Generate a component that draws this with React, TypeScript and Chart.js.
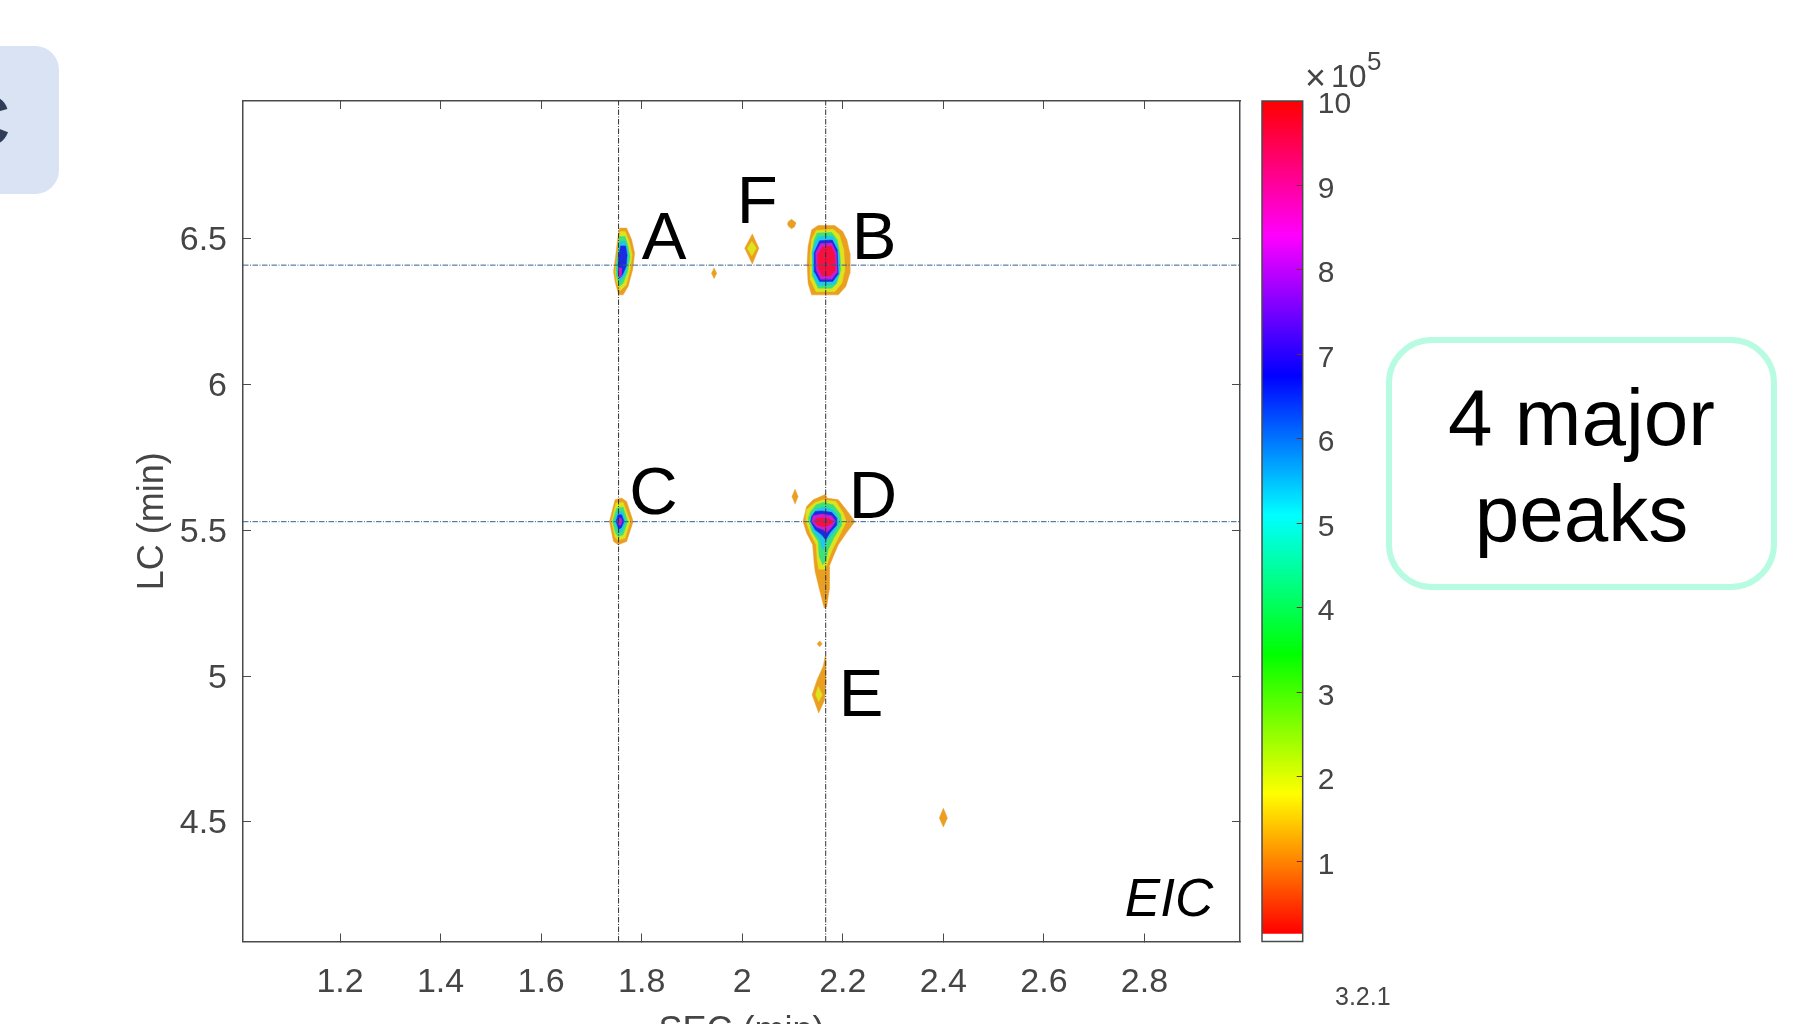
import React, { useEffect, useRef } from "react";
import { Chart, registerables } from "chart.js";

Chart.register(...registerables);

type Pt = [number, number];

const FONT = '"Liberation Sans", Arial, sans-serif';
const TEXT = "#454545";
const AXIS = "#4a4a4a";

const xTicks = [1.2, 1.4, 1.6, 1.8, 2, 2.2, 2.4, 2.6, 2.8];
const yTicks = [4.5, 5, 5.5, 6, 6.5];
const xRange = [1.007, 2.99];
const yRange = [4.09, 6.973];
const cbarTicks = [1, 2, 3, 4, 5, 6, 7, 8, 9, 10];
const cbarRange = [0.053, 10];
const cbarBar = [0.15, 10];
const cbarStopValues = [0.15, 1.8, 3.45, 5.1, 6.75, 8.4, 10];
const cbarStopColors = ["#ff0000", "#ffff00", "#00ff00", "#00ffff", "#0000ff", "#ff00ff", "#ff0000"];

const levelColors = ["#EB9F22", "#DCE41C", "#3EE07A", "#1FC8E6", "#1A2BE0", "#C81FD0", "#F5103F"];

const crossX = [1.754, 2.166];
const crossY = [5.53, 6.41];

const peakA: Pt[][] = [
  [[1.756,6.537],[1.77,6.537],[1.78,6.497],[1.786,6.451],[1.782,6.394],[1.773,6.337],[1.763,6.308],[1.754,6.308],[1.747,6.354],[1.744,6.388],[1.748,6.439],[1.752,6.497]],
  [[1.757,6.525],[1.767,6.525],[1.775,6.491],[1.781,6.445],[1.777,6.394],[1.769,6.342],[1.757,6.322],[1.75,6.354],[1.747,6.388],[1.752,6.439],[1.754,6.491]],
  [[1.756,6.508],[1.767,6.508],[1.773,6.474],[1.777,6.439],[1.772,6.388],[1.763,6.348],[1.756,6.337],[1.75,6.371],[1.749,6.4],[1.752,6.445]],
  [[1.757,6.491],[1.768,6.491],[1.773,6.457],[1.772,6.417],[1.767,6.377],[1.757,6.354],[1.752,6.382],[1.752,6.417],[1.754,6.451]],
  [[1.758,6.476],[1.768,6.476],[1.771,6.445],[1.769,6.405],[1.762,6.377],[1.756,6.365],[1.753,6.394],[1.754,6.439]],
  [[1.754,6.4],[1.76,6.4],[1.759,6.371],[1.755,6.369]],
];

const peakB: Pt[][] = [
  [[2.138,6.531],[2.151,6.546],[2.184,6.546],[2.2,6.525],[2.208,6.497],[2.214,6.451],[2.214,6.382],[2.206,6.337],[2.191,6.308],[2.138,6.308],[2.131,6.348],[2.129,6.417],[2.131,6.474]],
  [[2.147,6.529],[2.181,6.533],[2.193,6.514],[2.202,6.462],[2.204,6.394],[2.198,6.348],[2.184,6.319],[2.147,6.319],[2.136,6.359],[2.135,6.439],[2.138,6.497]],
  [[2.149,6.52],[2.178,6.522],[2.189,6.497],[2.194,6.451],[2.196,6.394],[2.188,6.348],[2.178,6.331],[2.151,6.331],[2.14,6.371],[2.139,6.451],[2.143,6.497]],
  [[2.151,6.507],[2.18,6.51],[2.189,6.48],[2.194,6.435],[2.193,6.378],[2.184,6.344],[2.151,6.34],[2.141,6.375],[2.139,6.455],[2.145,6.49]],
  [[2.154,6.494],[2.179,6.496],[2.189,6.463],[2.191,6.38],[2.18,6.354],[2.154,6.354],[2.144,6.386],[2.143,6.453]],
  [[2.156,6.484],[2.178,6.486],[2.187,6.453],[2.189,6.386],[2.178,6.362],[2.156,6.362],[2.147,6.393],[2.146,6.453]],
  [[2.159,6.472],[2.177,6.475],[2.184,6.445],[2.185,6.392],[2.175,6.374],[2.159,6.374],[2.151,6.4],[2.15,6.445]],
];

const peakC: Pt[][] = [
  [[1.747,5.605],[1.76,5.611],[1.77,5.599],[1.783,5.531],[1.77,5.462],[1.753,5.451],[1.744,5.462],[1.736,5.531]],
  [[1.749,5.594],[1.763,5.596],[1.777,5.531],[1.767,5.474],[1.753,5.466],[1.747,5.477],[1.74,5.531]],
  [[1.75,5.576],[1.763,5.58],[1.772,5.531],[1.763,5.485],[1.753,5.479],[1.748,5.491],[1.742,5.531]],
  [[1.752,5.565],[1.762,5.565],[1.768,5.531],[1.761,5.497],[1.755,5.491],[1.746,5.531]],
  [[1.753,5.554],[1.76,5.554],[1.765,5.531],[1.759,5.508],[1.754,5.505],[1.749,5.531]],
  [[1.755,5.542],[1.759,5.542],[1.761,5.531],[1.758,5.518],[1.755,5.518],[1.752,5.531]],
];

const peakD: Pt[][] = [
  [[2.166,5.624],[2.168,5.611],[2.191,5.605],[2.207,5.571],[2.224,5.531],[2.207,5.491],[2.191,5.451],[2.181,5.411],[2.173,5.376],[2.173,5.297],[2.168,5.239],[2.163,5.234],[2.153,5.302],[2.145,5.359],[2.143,5.388],[2.14,5.451],[2.128,5.491],[2.121,5.531],[2.128,5.582],[2.141,5.605]],
  [[2.145,5.596],[2.128,5.571],[2.127,5.531],[2.135,5.491],[2.147,5.451],[2.149,5.399],[2.152,5.367],[2.166,5.367],[2.171,5.399],[2.179,5.434],[2.191,5.474],[2.207,5.531],[2.201,5.559],[2.186,5.599],[2.161,5.605]],
  [[2.147,5.588],[2.136,5.565],[2.131,5.542],[2.138,5.497],[2.151,5.462],[2.153,5.411],[2.16,5.382],[2.166,5.394],[2.171,5.434],[2.182,5.474],[2.198,5.519],[2.196,5.554],[2.181,5.588],[2.161,5.596]],
  [[2.147,5.573],[2.138,5.557],[2.135,5.536],[2.141,5.497],[2.154,5.468],[2.16,5.434],[2.164,5.445],[2.169,5.468],[2.184,5.497],[2.193,5.531],[2.186,5.559],[2.178,5.573],[2.161,5.58]],
  [[2.145,5.565],[2.138,5.548],[2.136,5.531],[2.145,5.502],[2.158,5.485],[2.166,5.468],[2.174,5.491],[2.188,5.519],[2.188,5.542],[2.178,5.562],[2.158,5.567]],
  [[2.141,5.55],[2.138,5.531],[2.148,5.511],[2.161,5.502],[2.168,5.493],[2.178,5.511],[2.186,5.531],[2.178,5.55],[2.158,5.556]],
  [[2.147,5.541],[2.143,5.531],[2.151,5.517],[2.164,5.513],[2.174,5.52],[2.182,5.531],[2.171,5.541],[2.158,5.543]],
];

const peakE: Pt[][] = [
  [[2.165,5.068],[2.166,4.976],[2.164,4.919],[2.152,4.874],[2.139,4.936],[2.149,4.988],[2.161,5.034]],
  [[2.151,4.965],[2.159,4.936],[2.152,4.913],[2.146,4.936]],
];

const peakF: Pt[][] = [
  [[2.02,6.517],[2.033,6.468],[2.02,6.414],[2.005,6.468]],
  [[2.019,6.491],[2.028,6.468],[2.019,6.442],[2.01,6.468]],
];

const minorPeaks: Pt[][] = [
  [[1.944,6.4],[1.949,6.382],[1.944,6.364],[1.939,6.382]],
  [[2.098,6.567],[2.105,6.558],[2.106,6.551],[2.104,6.542],[2.098,6.535],[2.092,6.543],[2.09,6.551],[2.092,6.56]],
  [[2.105,5.641],[2.111,5.616],[2.105,5.591],[2.099,5.616]],
  [[2.154,5.121],[2.159,5.111],[2.154,5.101],[2.149,5.111]],
  [[2.4,4.547],[2.408,4.514],[2.4,4.483],[2.392,4.514]],
];

const peakLabelNames = ["A", "B", "C", "D", "E", "F"];
const peakLabelX = [1.8, 2.218, 1.775, 2.212, 2.192, 1.989];
const peakLabelY = [6.432, 6.432, 5.558, 5.544, 4.862, 6.554];
const panelNote = "EIC";
const panelNoteX = 2.761;
const panelNoteY = 4.179;

const contourDataset = (poly: Pt[], level: number, order: number) => ({
  data: [...poly, poly[0]].map(([x, y]) => ({ x, y })),
  showLine: true,
  fill: "shape",
  backgroundColor: levelColors[level],
  borderColor: levelColors[level],
  borderWidth: 0.5,
  pointRadius: 0,
  order,
});

const makeDatasets = () => {
  const sets: any[] = [];
  [peakA, peakB, peakC, peakD, peakE, peakF].forEach((peak) =>
    peak.forEach((poly, level) => sets.push(contourDataset(poly, level, 100 - level)))
  );
  minorPeaks.forEach((poly) => sets.push(contourDataset(poly, 0, 100)));
  crossX.forEach((x) =>
    sets.push({
      data: [{ x, y: yRange[0] }, { x, y: yRange[1] }],
      showLine: true, fill: false, borderColor: "#333333", borderWidth: 1,
      borderDash: [5.5, 1.5, 1, 1.5], pointRadius: 0, order: 1,
    })
  );
  crossY.forEach((y) =>
    sets.push({
      data: [{ x: xRange[0], y }, { x: xRange[1], y }],
      showLine: true, fill: false, borderColor: "#33608f", borderWidth: 1,
      borderDash: [5.5, 1.5, 1, 1.5], pointRadius: 0, order: 2,
    })
  );
  return sets;
};

const fmt = (v: number) => String(v);

const labelsPlugin = {
  id: "peakLabels",
  afterDatasetsDraw(chart: any) {
    const { ctx, scales } = chart;
    ctx.save();
    ctx.fillStyle = "#000";
    ctx.textAlign = "left";
    ctx.textBaseline = "alphabetic";
    ctx.font = `67px ${FONT}`;
    peakLabelNames.forEach((name, i) => {
      ctx.fillText(name, scales.x.getPixelForValue(peakLabelX[i]), scales.y.getPixelForValue(peakLabelY[i]));
    });
    ctx.font = `italic 53px ${FONT}`;
    ctx.fillText(panelNote, scales.x.getPixelForValue(panelNoteX), scales.y.getPixelForValue(panelNoteY));
    ctx.restore();
  },
};

const framePlugin = {
  id: "cbarFrame",
  afterDraw(chart: any) {
    const { ctx, chartArea: a } = chart;
    ctx.save();
    ctx.strokeStyle = AXIS;
    ctx.lineWidth = 1.5;
    ctx.strokeRect(a.left, a.top, a.right - a.left, a.bottom - a.top);
    ctx.restore();
  },
};

const tickMarks = (len: number) => ({
  drawOnChartArea: false,
  drawTicks: true,
  tickLength: -len,
  tickWidth: 1,
  tickColor: AXIS,
});
const border = { display: true, color: AXIS, width: 1.5 };

export default function App() {
  const mainRef = useRef<HTMLCanvasElement>(null);
  const cbarRef = useRef<HTMLCanvasElement>(null);

  useEffect(() => {
    Chart.defaults.font.family = FONT;
    const setX = (s: any) => { s.ticks = xTicks.map((value) => ({ value })); };
    const setY = (s: any) => { s.ticks = yTicks.map((value) => ({ value })); };

    const main = new Chart(mainRef.current!, {
      type: "scatter",
      data: { datasets: makeDatasets() },
      plugins: [labelsPlugin],
      options: {
        animation: false,
        responsive: false,
        layout: { padding: { left: 0, top: 101, right: 574, bottom: 0 } },
        plugins: { legend: { display: false }, tooltip: { enabled: false } },
        scales: {
          x: {
            type: "linear", position: "bottom", min: xRange[0], max: xRange[1],
            afterBuildTicks: setX,
            afterFit: (s: any) => { s.height = 114.5; },
            grid: tickMarks(8), border,
            ticks: { padding: 29, color: TEXT, font: { size: 34 }, maxRotation: 0, autoSkip: false, callback: fmt },
            title: { display: true, text: "SEC (min)", color: TEXT, font: { size: 36 }, padding: { top: 0, bottom: 2.4 } },
          },
          y: {
            type: "linear", position: "left", min: yRange[0], max: yRange[1],
            afterBuildTicks: setY,
            afterFit: (s: any) => { s.width = 243; },
            grid: tickMarks(8), border,
            ticks: { padding: 24, labelOffset: 2, color: TEXT, font: { size: 34 }, autoSkip: false, callback: fmt },
            title: { display: true, text: "LC (min)", color: TEXT, font: { size: 36 }, padding: { top: 131, bottom: 0 } },
          },
          x2: {
            type: "linear", position: "top", min: xRange[0], max: xRange[1],
            afterBuildTicks: setX,
            afterFit: (s: any) => { s.height = 0; },
            grid: tickMarks(8), border,
            ticks: { display: false },
          },
          y2: {
            type: "linear", position: "right", min: yRange[0], max: yRange[1],
            afterBuildTicks: setY,
            afterFit: (s: any) => { s.width = 0; },
            grid: tickMarks(8), border,
            ticks: { display: false },
          },
        },
      } as any,
    });

    const cbar = new Chart(cbarRef.current!, {
      type: "bar",
      data: {
        labels: [""],
        datasets: [
          {
            data: [cbarBar as any],
            barPercentage: 1,
            categoryPercentage: 1,
            borderWidth: 0,
            backgroundColor: (c: any) => {
              const scale = c.chart.scales.y;
              if (!scale || !c.chart.chartArea) return cbarStopColors[0];
              const g = c.chart.ctx.createLinearGradient(
                0, scale.getPixelForValue(cbarBar[0]), 0, scale.getPixelForValue(cbarBar[1])
              );
              cbarStopValues.forEach((v, i) =>
                g.addColorStop((v - cbarBar[0]) / (cbarBar[1] - cbarBar[0]), cbarStopColors[i])
              );
              return g;
            },
          },
        ],
      },
      plugins: [framePlugin],
      options: {
        animation: false,
        responsive: false,
        layout: { padding: { left: 12, top: 101, right: 0, bottom: 82.5 } },
        plugins: { legend: { display: false }, tooltip: { enabled: false } },
        scales: {
          x: { display: false },
          y: {
            position: "right", min: cbarRange[0], max: cbarRange[1],
            afterBuildTicks: (s: any) => { s.ticks = cbarTicks.map((value) => ({ value })); },
            afterFit: (s: any) => { s.width = 111.3; },
            grid: { ...tickMarks(6), tickColor: "#7a2a2a", z: 1 },
            border: { display: false },
            ticks: { padding: 21, color: TEXT, font: { size: 30 }, labelOffset: 4, autoSkip: false, callback: fmt },
          },
        },
      } as any,
    });

    return () => {
      main.destroy();
      cbar.destroy();
    };
  }, []);

  const abs = (o: React.CSSProperties): React.CSSProperties => ({ position: "absolute", whiteSpace: "nowrap", fontFamily: FONT, ...o });

  return (
    <div style={abs({ left: 0, top: 0, width: 1814, height: 1024, overflow: "hidden", background: "#fff" })}>
      <canvas ref={mainRef} width={1814} height={1056} style={{ position: "absolute", left: 0, top: 0, width: 1814, height: 1056 }} />
      <canvas ref={cbarRef} width={164} height={1024} style={{ position: "absolute", left: 1250, top: 0, width: 164, height: 1024 }} />

      <div style={abs({ left: 1305, top: 60, fontSize: 36, lineHeight: "36px", color: TEXT })}>×</div>
      <div style={abs({ left: 1331, top: 60, fontSize: 32, lineHeight: "32px", color: TEXT })}>10</div>
      <div style={abs({ left: 1367, top: 48, fontSize: 26, lineHeight: "26px", color: TEXT })}>5</div>
      <div style={abs({ left: 1335, top: 984, fontSize: 25, lineHeight: "24px", color: TEXT })}>3.2.1</div>

      <div style={abs({ left: -30, top: 46, width: 89, height: 148, borderRadius: 24, background: "#DAE3F3" })} />
      <div style={abs({ left: -42, top: 85, fontSize: 72, lineHeight: "72px", fontWeight: 700, color: "#2F3E55" })}>C</div>

      <div style={abs({ left: 1386, top: 337, width: 391, height: 253, boxSizing: "border-box", border: "6.5px solid #B8FBE3", borderRadius: 46 })} />
      <div style={abs({ left: 1386, top: 370, width: 391, textAlign: "center", fontSize: 80, lineHeight: "96px", color: "#000" })}>
        4 major<br />peaks
      </div>
    </div>
  );
}
